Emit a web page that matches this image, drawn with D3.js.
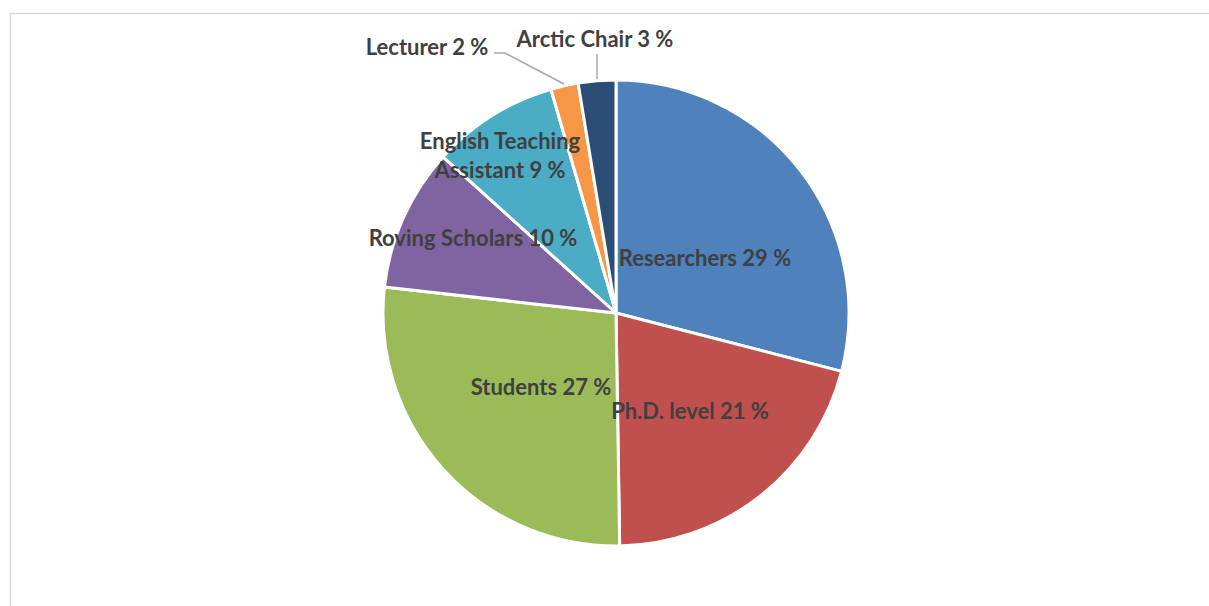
<!DOCTYPE html>
<html><head><meta charset="utf-8">
<script src="https://cdn.jsdelivr.net/npm/d3@7"></script>
<style>html,body{margin:0;padding:0;background:#fff;}</style>
</head><body>
<svg id="c" width="1209" height="606"></svg>
<script>
const categories = ["Researchers", "Ph.D. level", "Students", "Roving Scholars", "English Teaching Assistant", "Lecturer", "Arctic Chair"];
const values = [29, 20.7, 27, 9.9, 8.8, 1.9, 2.6];
const percentLabels = ["29 %", "21 %", "27 %", "10 %", "9 %", "2 %", "3 %"];
const colors = ["#4F81BD", "#C0504D", "#9BBB59", "#8064A2", "#4BACC6", "#F79646", "#2C4D75"];

const svg = d3.select("#c");
// frame
svg.append("path").attr("d", "M10.5,606 L10.5,13.5 L1209,13.5")
  .attr("fill", "none").attr("stroke", "#d9d9d9").attr("stroke-width", 1.5);

const cx = 616, cy = 313, r = 233;
const g = svg.append("g").attr("transform", `translate(${cx},${cy})`);
const pie = d3.pie().sort(null).value(d => d)(values);
const arc = d3.arc().innerRadius(0).outerRadius(r);
g.selectAll("path.s").data(pie).enter().append("path")
  .attr("d", arc).attr("fill", (d, i) => colors[i])
  .attr("stroke", "#fff").attr("stroke-width", 3).attr("stroke-linejoin", "round");

// label layout (offsets relative to pie centre), lines per label
const labelPos = [[89, -56], [74, 97], [-75, 73], [-143, -76], [-116, -173], [-189, -267], [-21, -275]];
const labelLines = categories.map((c, i) => i === 4 ? ["English Teaching", "Assistant " + percentLabels[i]] : [c + " " + percentLabels[i]]);

// leader lines
g.append("polyline").attr("points", "-122,-260 -111,-260 -52,-229")
  .attr("fill", "none").attr("stroke", "#a6a6a6").attr("stroke-width", 1.5);
g.append("line").attr("x1", -19).attr("y1", -259).attr("x2", -19).attr("y2", -234)
  .attr("stroke", "#a6a6a6").attr("stroke-width", 1.5);

labelLines.forEach((lines, i) => {
  const t = g.append("text").attr("x", labelPos[i][0]).attr("y", labelPos[i][1])
    .attr("text-anchor", "middle").attr("dominant-baseline", "central")
    .attr("font-family", "Lato, 'Open Sans', sans-serif").attr("font-weight", "bold")
    .attr("font-size", 22).attr("fill", "#404040");
  lines.forEach((l, k) => t.append("tspan").attr("x", labelPos[i][0]).attr("dy", k === 0 ? 0 : 29).text(l));
});
</script>
</body></html>
